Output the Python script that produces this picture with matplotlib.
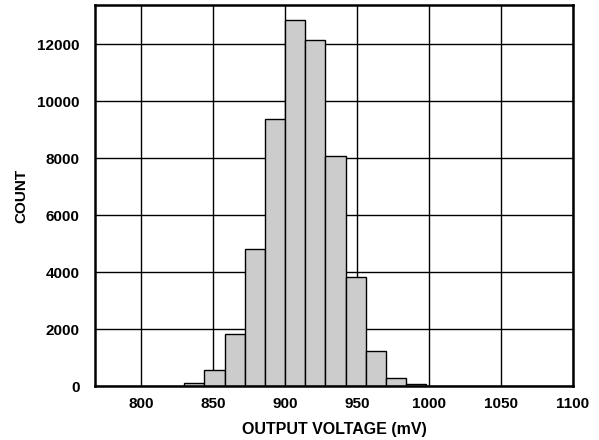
import numpy as np
import matplotlib.pyplot as plt

plt.rcParams.update({
    'font.family': ['Liberation Sans', 'DejaVu Sans'],
    'font.weight': 'bold',
    'font.size': 11,
})

# histogram of output voltage (mV), 14 mV bins
bin_left = [830, 844, 858, 872, 886, 900, 914, 928, 942, 956, 970, 984]
counts = [120, 550, 1840, 4820, 9360, 12840, 12130, 8080, 3820, 1220, 280, 60]
bin_width = 14

x_ticks = [800, 850, 900, 950, 1000, 1050, 1100]
y_ticks = [0, 2000, 4000, 6000, 8000, 10000, 12000]

fig = plt.figure(figsize=(5.99, 4.40), dpi=100)
ax = fig.add_axes([95 / 599, 1 - 386 / 440, (573 - 95) / 599, (386 - 5) / 440])

ax.set_axisbelow(True)
ax.grid(True, color='black', linewidth=1.0)
ax.bar(bin_left, counts, width=bin_width, align='edge',
       color='#cccccc', edgecolor='black', linewidth=1.0, zorder=3)

ax.set_xlim(768, 1100)
ax.set_ylim(0, 13370)
ax.set_xticks(x_ticks)
ax.set_yticks(y_ticks)
ax.tick_params(length=0, labelsize=11)
ax.tick_params(axis='x', pad=8)
ax.tick_params(axis='y', pad=11)
for s in ax.spines.values():
    s.set_linewidth(1.8)
    s.set_zorder(4)

ax.set_xlabel('OUTPUT VOLTAGE (mV)', fontsize=11.5, fontweight='bold', labelpad=8)
ax.set_ylabel('COUNT', fontsize=11, fontweight='bold', labelpad=5)
ax.yaxis.set_label_coords(-0.14, 0.5)

fig.savefig('out.png', dpi=100)
